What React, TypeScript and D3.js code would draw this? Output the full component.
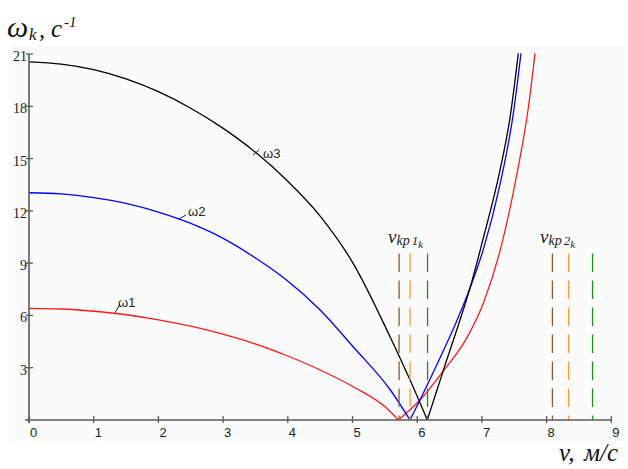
import React from "react";
import * as d3 from "d3";

// ---- data (v in m/s, omega in 1/s) ----
const vTicks = [0, 1, 2, 3, 4, 5, 6, 7, 8, 9];
const omegaTicks = [3, 6, 9, 12, 15, 18, 21];

const omega1Down: [number, number][] = [[0, 6.41], [0.5, 6.37], [1.0, 6.24], [1.5, 6.04], [2.0, 5.75], [2.5, 5.38], [2.95, 4.97], [3.47, 4.4], [3.98, 3.7], [4.5, 2.87], [5.01, 1.91], [5.53, 0.67], [5.708, 0]];
const omega1Up: [number, number][] = [[5.708, 0], [6.043, 1.15], [6.403, 2.81], [6.765, 4.7], [7.022, 6.7], [7.28, 9.7], [7.538, 14.06], [7.717, 17.9], [7.821, 21.04]];
const omega2Down: [number, number][] = [[0, 13.04], [0.5, 12.97], [1.0, 12.76], [1.5, 12.43], [2.0, 11.93], [2.5, 11.28], [2.95, 10.52], [3.47, 9.37], [3.98, 8.03], [4.5, 6.31], [5.01, 4.2], [5.58, 1.75], [5.889, 0]];
const omega2Up: [number, number][] = [[5.889, 0], [6.043, 1.15], [6.352, 3.56], [6.611, 5.68], [6.816, 7.57], [7.022, 9.79], [7.28, 13.52], [7.485, 17.57], [7.604, 21.04]];
const omega3Down: [number, number][] = [[0, 20.55], [0.5, 20.42], [1.0, 20.1], [1.5, 19.57], [2.0, 18.84], [2.5, 17.89], [2.95, 16.86], [3.52, 15.3], [3.98, 13.77], [4.5, 11.7], [5.01, 8.99], [5.58, 4.78], [5.89, 2.29], [6.156, 0]];
const omega3Up: [number, number][] = [[6.156, 0], [6.301, 1.66], [6.456, 3.44], [6.611, 5.16], [6.816, 7.57], [7.022, 10.44], [7.28, 14.34], [7.434, 17.33], [7.563, 21.04]];

const vkp1 = [5.72, 5.89, 6.16];
const vkp2 = [8.09, 8.34, 8.71];
const dashTop = 9.56;

const dashColors = ["#8B5A2B", "#FF9933", "#1E8C1E"];

export default function App() {
  const W = 628, H = 469;
  const x = d3.scaleLinear().domain([0, 9]).range([29, 611.3]);
  const y = d3.scaleLinear().domain([0, 21]).range([420, 54]);
  const line = d3
    .line<[number, number]>()
    .x((d) => x(d[0]))
    .y((d) => y(d[1]))
    .curve(d3.curveMonotoneX);

  const series = [
    { down: omega1Down, up: omega1Up, color: "#ff1a1a" },
    { down: omega2Down, up: omega2Up, color: "#0000ff" },
    { down: omega3Down, up: omega3Up, color: "#000000" },
  ];
  const axisColor = "#5a5a5a";
  const serif = "'Liberation Serif', 'Times New Roman', serif";
  const sans = "'Liberation Sans', Arial, sans-serif";

  return (
    <svg width={W} height={H} style={{ position: "absolute", left: 0, top: 0, background: "#fff" }}>
      <rect x={10} y={45} width={614} height={397} fill="#fbfbfb" />
      {/* curves */}
      {series.map((s, i) => (
        <g key={i} fill="none" stroke={s.color} strokeWidth={1.3}>
          <path d={line(s.down) || ""} />
          <path d={line(s.up) || ""} />
        </g>
      ))}
      {/* dashed critical speeds */}
      {[vkp1, vkp2].map((grp, gi) =>
        grp.map((v, i) => (
          <line
            key={`${gi}-${i}`}
            x1={x(v)}
            x2={x(v)}
            y1={y(dashTop)}
            y2={y(0)}
            stroke={dashColors[i]}
            strokeWidth={1.3}
            strokeDasharray="18.5,8.5"
          />
        ))
      )}
      {/* axes */}
      <line x1={x(0)} x2={x(0)} y1={y(21)} y2={y(0) + 3} stroke={axisColor} strokeWidth={1.6} />
      <line x1={x(0) - 4} x2={x(9)} y1={y(0)} y2={y(0)} stroke={axisColor} strokeWidth={1.6} />
      {vTicks.map((t) => (
        <g key={t}>
          <line x1={x(t)} x2={x(t)} y1={y(0) - 4} y2={y(0) + 3} stroke={axisColor} strokeWidth={1.3} />
          <text x={x(t) + 1} y={437} fontFamily={sans} fontSize={13} fill="#222">
            {t}
          </text>
        </g>
      ))}
      {omegaTicks.map((t) => (
        <g key={t}>
          <line x1={x(0) - 3} x2={x(0) + 4} y1={y(t)} y2={y(t)} stroke={axisColor} strokeWidth={1.3} />
          <text x={27} y={y(t) + 7} textAnchor="end" fontFamily={serif} fontSize={14} fill="#222">
            {t}
          </text>
        </g>
      ))}
      {/* curve labels */}
      <g stroke="#222" strokeWidth={1}>
        <line x1={115} y1={313} x2={120} y2={304} />
        <line x1={179} y1={219} x2={186} y2={215} />
        <line x1={253} y1={155} x2={259} y2={150} />
      </g>
      <g fontFamily={sans} fontSize={13} fill="#222">
        <text x={118} y={307}>ω1</text>
        <text x={188} y={216}>ω2</text>
        <text x={263} y={158}>ω3</text>
      </g>
      {/* critical speed labels */}
      {[
        { xs: 388, idx: "1" },
        { xs: 540, idx: "2" },
      ].map((l) => (
        <text key={l.idx} x={l.xs} y={243} fontFamily={serif} fontStyle="italic" fill="#222">
          <tspan fontSize={19}>v</tspan>
          <tspan fontSize={14} dy={2}>kp</tspan>
          <tspan fontSize={13} dx={2}>{l.idx}</tspan>
          <tspan fontSize={11} dy={3}>k</tspan>
        </text>
      ))}
      {/* axis titles */}
      <text y={37} fontFamily={serif} fontStyle="italic" fill="#111">
        <tspan x={7} fontSize={30}>ω</tspan>
        <tspan x={29} fontSize={17} dy={3}>k</tspan>
        <tspan x={39} fontSize={24} dy={-3}>,</tspan>
        <tspan x={51} fontSize={25}>c</tspan>
        <tspan x={64} fontSize={15} dy={-10}>-1</tspan>
      </text>
      <text y={461} fontFamily={serif} fontStyle="italic" fontSize={25} fill="#111">
        <tspan x={559}>v,</tspan>
        <tspan x={584}>м/с</tspan>
      </text>
    </svg>
  );
}
